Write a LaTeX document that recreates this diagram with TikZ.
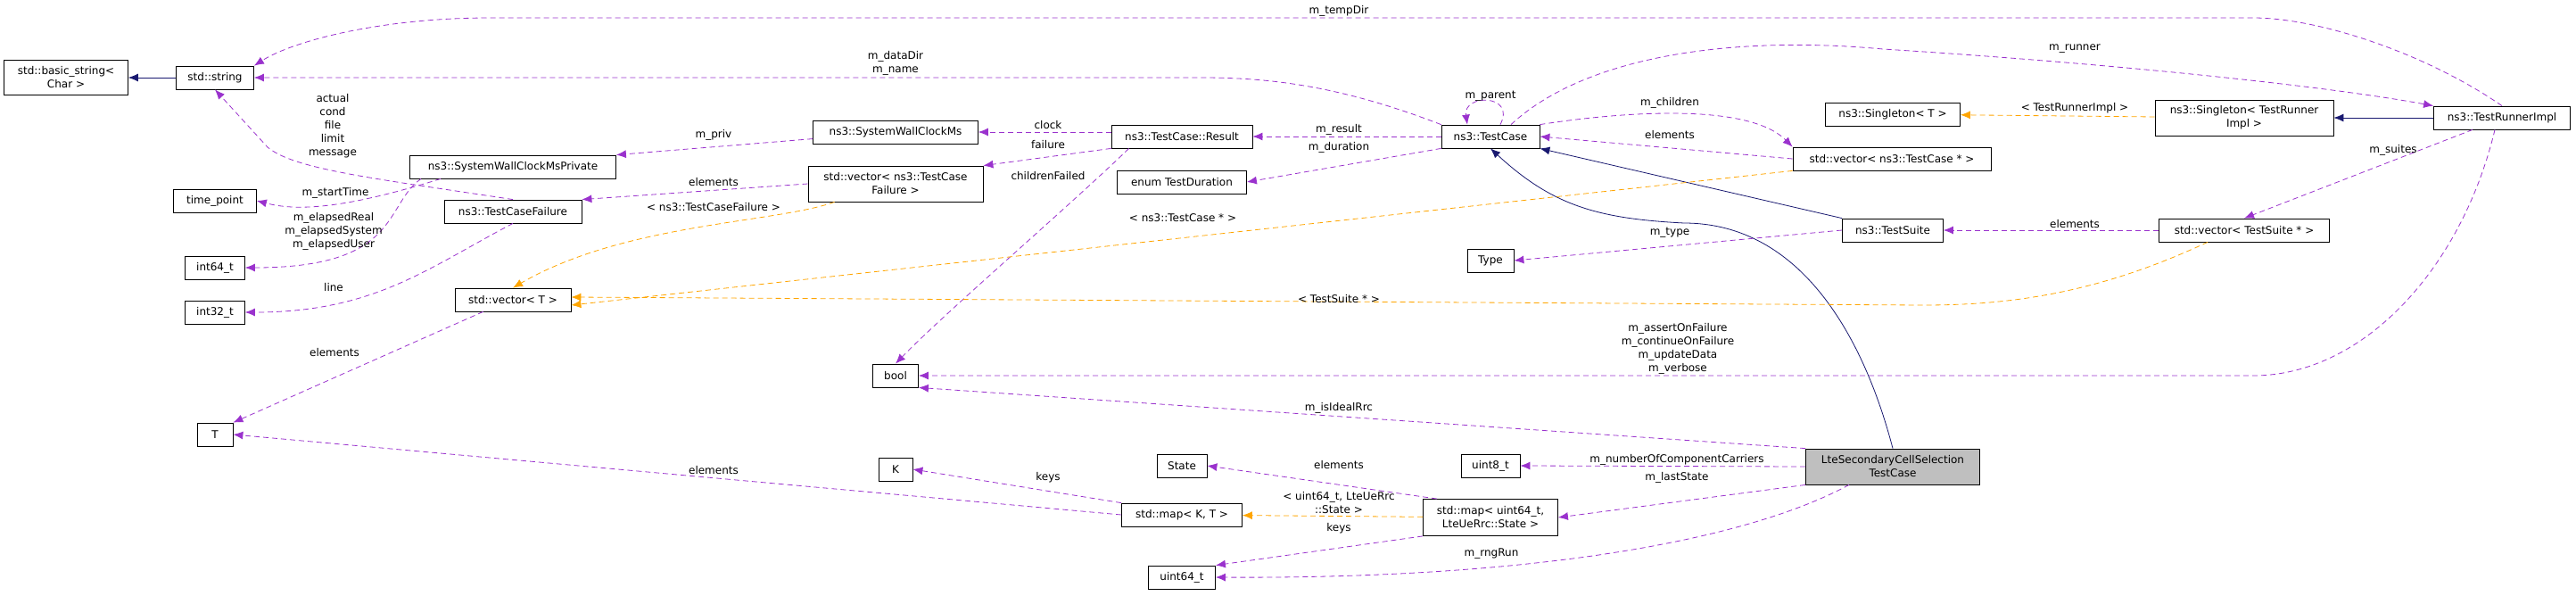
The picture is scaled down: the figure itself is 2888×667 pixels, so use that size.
\documentclass[tikz,border=0pt]{standalone}
\usepackage{fontspec}
\setmainfont{DejaVu Sans}
\usetikzlibrary{arrows.meta,positioning}
\definecolor{usecol}{HTML}{9A32CD}
\definecolor{tplcol}{HTML}{FFA500}
\definecolor{inhcol}{HTML}{191970}
\begin{document}
\begin{tikzpicture}[x=1pt,y=-1pt,
    font=\fontsize{12}{15}\selectfont,
    cls/.style={draw,thick,inner sep=0pt,minimum height=26pt,align=center},
    lbl/.style={inner sep=0pt,align=center},
    mem/.style={usecol,thick,dashed,dash pattern=on 6pt off 4pt,-{Latex[length=11pt,width=9pt]}},
    tpl/.style={tplcol,thick,dashed,dash pattern=on 6pt off 4pt,-{Latex[length=11pt,width=9pt]}},
    inh/.style={inhcol,thick,-{Latex[length=11pt,width=9pt]}}]
  \useasboundingbox (0,0) rectangle (2888,667);
  % classes
  \node[cls,minimum width=139pt,minimum height=39pt] (bstr) at (74,87) {std::basic\_string\textless\\Char \textgreater};
  \node[cls,minimum width=87pt] (str) at (241,87) {std::string};
  \node[cls,minimum width=231pt] (swcmp) at (575,187) {ns3::SystemWallClockMsPrivate};
  \node[cls,minimum width=93pt] (tp) at (241,225) {time\_point};
  \node[cls,minimum width=154pt] (tcf) at (575,237) {ns3::TestCaseFailure};
  \node[cls,minimum width=67pt] (i64) at (241,300) {int64\_t};
  \node[cls,minimum width=67pt] (i32) at (241,350) {int32\_t};
  \node[cls,minimum width=130pt] (vecT) at (575,336) {std::vector\textless{} T \textgreater};
  \node[cls,minimum width=40pt] (T) at (241,487) {T};
  \node[cls,minimum width=185pt] (swcm) at (1004,148) {ns3::SystemWallClockMs};
  \node[cls,minimum width=196pt,minimum height=40pt] (vecTCF) at (1004,206) {std::vector\textless{} ns3::TestCase\\Failure \textgreater};
  \node[cls,minimum width=158pt] (res) at (1325,153) {ns3::TestCase::Result};
  \node[cls,minimum width=145pt] (dur) at (1325,204) {enum TestDuration};
  \node[cls,minimum width=110pt] (tc) at (1671,153) {ns3::TestCase};
  \node[cls,minimum width=51pt] (bool) at (1004,421) {bool};
  \node[cls,minimum width=52pt] (type) at (1671,292) {Type};
  \node[cls,minimum width=38pt] (K) at (1004,526) {K};
  \node[cls,minimum width=56pt] (state) at (1325,522) {State};
  \node[cls,minimum width=66pt] (u8) at (1671,522) {uint8\_t};
  \node[cls,minimum width=135pt] (mapKT) at (1325,577) {std::map\textless{} K, T \textgreater};
  \node[cls,minimum width=151pt,minimum height=41pt] (mapU) at (1671,580) {std::map\textless{} uint64\_t,\\LteUeRrc::State \textgreater};
  \node[cls,minimum width=75pt] (u64) at (1325,647) {uint64\_t};
  \node[cls,minimum width=151pt] (sglT) at (2122,128) {ns3::Singleton\textless{} T \textgreater};
  \node[cls,minimum width=200pt,minimum height=40pt] (sglR) at (2516,132) {ns3::Singleton\textless{} TestRunner\\Impl \textgreater};
  \node[cls,minimum width=153pt] (tri) at (2805,132) {ns3::TestRunnerImpl};
  \node[cls,minimum width=222pt] (vecTC) at (2121,178) {std::vector\textless{} ns3::TestCase * \textgreater};
  \node[cls,minimum width=113pt] (ts) at (2122,258) {ns3::TestSuite};
  \node[cls,minimum width=191pt] (vecTS) at (2516,258) {std::vector\textless{} TestSuite * \textgreater};
  \node[cls,fill=black!25,minimum width=195pt,minimum height=40pt] (lte) at (2122,523) {LteSecondaryCellSelection\\TestCase};
  % inheritance
  \draw[inh] (str) -- (bstr);
  \draw[inh] (tri) -- (sglR);
  \draw[inh] (ts.north west) -- (tc.south east);
  \draw[inh] (lte.north) .. controls (2090,380) and (2020,250) .. (1888,250)
    .. controls (1790,245) and (1740,230) .. (tc.south);
  % members
  \draw[mem] (tri.north) .. controls (2720,60) and (2600,20) .. (2526,20) -- (549,20)
    .. controls (430,20) and (330,45) .. (str.north east);
  \draw[mem] (tc.north west) .. controls (1500,95) and (1420,87) .. (1347,87) -- (str.east);
  \draw[mem] (tcf.north) .. controls (420,200) and (330,190) .. (300,165) -- (str.south);
  \draw[mem] (swcm) -- (swcmp.north east);
  \draw[mem] (res.west |- swcm.east) -- (swcm.east);
  \draw[mem] (res.south west) -- (vecTCF.north east);
  \draw[mem] (res.south west) ++(20,0) .. controls (1200,230) and (1060,350) .. (bool.north);
  \draw[mem] (tc) -- (res);
  \draw[mem] (tc.south west) -- (dur.east);
  \draw[mem] (tc.north) ++(11,0) .. controls (1700,105) and (1640,105) .. ([xshift=-26pt]tc.north);
  \draw[mem] (vecTCF.west) -- (tcf.north east);
  \draw[mem] (swcmp.south) ++(-81,0) .. controls (380,236) and (330,236) .. (tp.east);
  \draw[mem] (swcmp.south) ++(-103,0) .. controls (430,230) and (450,300) .. (i64.east);
  \draw[mem] (tcf.south) .. controls (480,300) and (420,350) .. (i32.east);
  \draw[mem] (vecT.south west) ++(32,0) -- (T.north east);
  \draw[mem] (tc.north east) .. controls (1820,125) and (1960,115) .. (vecTC.north west);
  \draw[mem] (vecTC.west) -- (tc.east);
  \draw[mem] (tc.north) ++(23,0) .. controls (1780,60) and (1950,40) .. (2111,55)
    .. controls (2350,70) and (2600,95) .. (tri.north west);
  \draw[mem] (ts.west) -- (type.east);
  \draw[mem] (tri.south) ++(-33,0) -- (vecTS.north);
  \draw[mem] (vecTS) -- (ts);
  \draw[mem] (tri.south) ++(-8,0) .. controls (2760,300) and (2650,421) .. (2526,421) -- (bool.east);
  \draw[mem] (lte.north west) -- (bool.south east);
  \draw[mem] (lte.west) -- (u8.east);
  \draw[mem] (lte.south west) -- (mapU.east);
  \draw[mem] (lte.south) ++(-49,0) .. controls (1950,610) and (1700,649) .. (u64.east);
  \draw[mem] (mapU.north) ++(-60,0) -- (state.east);
  \draw[mem] (mapKT.north west) -- (K.east);
  \draw[mem] (mapKT.west) -- (T.east);
  \draw[mem] (mapU.south west) -- (u64.north east);
  % templates
  \draw[tpl] (vecTCF.south west) ++(30,0) .. controls (870,250) and (700,250) .. (vecT.north);
  \draw[tpl] (vecTC.south west) -- ([yshift=-6pt]vecT.east);
  \draw[tpl] (vecTS.south) ++(-41,0) .. controls (2350,330) and (2250,342) .. (2156,342) -- ([yshift=3pt]vecT.east);
  \draw[tpl] (sglR) -- (sglT);
  \draw[tpl] (mapU) -- (mapKT);
  % labels
  \node[lbl] (lTemp) at (1501,12) {m\_tempDir};
  \node[lbl] (lData) at (1004,71) {m\_dataDir\\m\_name};
  \node[lbl] (lAct) at (373,141) {actual\\cond\\file\\limit\\message};
  \node[lbl] (lStart) at (376,216) {m\_startTime};
  \node[lbl] (lElap) at (374,259) {m\_elapsedReal\\m\_elapsedSystem\\m\_elapsedUser};
  \node[lbl] (lLine) at (374,322) {line};
  \node[lbl] (lEl1) at (375,395) {elements};
  \node[lbl] (lEl2) at (800,527) {elements};
  \node[lbl] (lPriv) at (800,151) {m\_priv};
  \node[lbl] (lEl3) at (800,204) {elements};
  \node[lbl] (lTCF) at (800,232) {\textless{} ns3::TestCaseFailure \textgreater};
  \node[lbl] (lParent) at (1671,108) {m\_parent};
  \node[lbl] (lClock) at (1175,140) {clock};
  \node[lbl] (lFail) at (1175,162) {failure};
  \node[lbl] (lChild) at (1175,197) {childrenFailed};
  \node[lbl] (lRes) at (1501,145) {m\_result};
  \node[lbl] (lDur) at (1501,165) {m\_duration};
  \node[lbl] (lChn) at (1872,115) {m\_children};
  \node[lbl] (lEl4) at (1872,151) {elements};
  \node[lbl] (lTC) at (1326,244) {\textless{} ns3::TestCase * \textgreater};
  \node[lbl] (lType) at (1872,261) {m\_type};
  \node[lbl] (lTS) at (1501,335) {\textless{} TestSuite * \textgreater};
  \node[lbl] (lFlags) at (1881,391) {m\_assertOnFailure\\m\_continueOnFailure\\m\_updateData\\m\_verbose};
  \node[lbl] (lIdeal) at (1501,457) {m\_isIdealRrc};
  \node[lbl] (lEl5) at (1501,521) {elements};
  \node[lbl] (lKeys1) at (1175,535) {keys};
  \node[lbl] (lNum) at (1880,515) {m\_numberOfComponentCarriers};
  \node[lbl] (lLast) at (1880,535) {m\_lastState};
  \node[lbl] (lMapU) at (1501,564) {\textless{} uint64\_t, LteUeRrc\\::State \textgreater};
  \node[lbl] (lKeys2) at (1501,592) {keys};
  \node[lbl] (lRng) at (1672,621) {m\_rngRun};
  \node[lbl] (lRun) at (2326,55) {m\_runner};
  \node[lbl] (lTRI) at (2326,121) {\textless{} TestRunnerImpl \textgreater};
  \node[lbl] (lSuites) at (2683,168) {m\_suites};
  \node[lbl] (lEl6) at (2326,251) {elements};
\end{tikzpicture}
\end{document}
